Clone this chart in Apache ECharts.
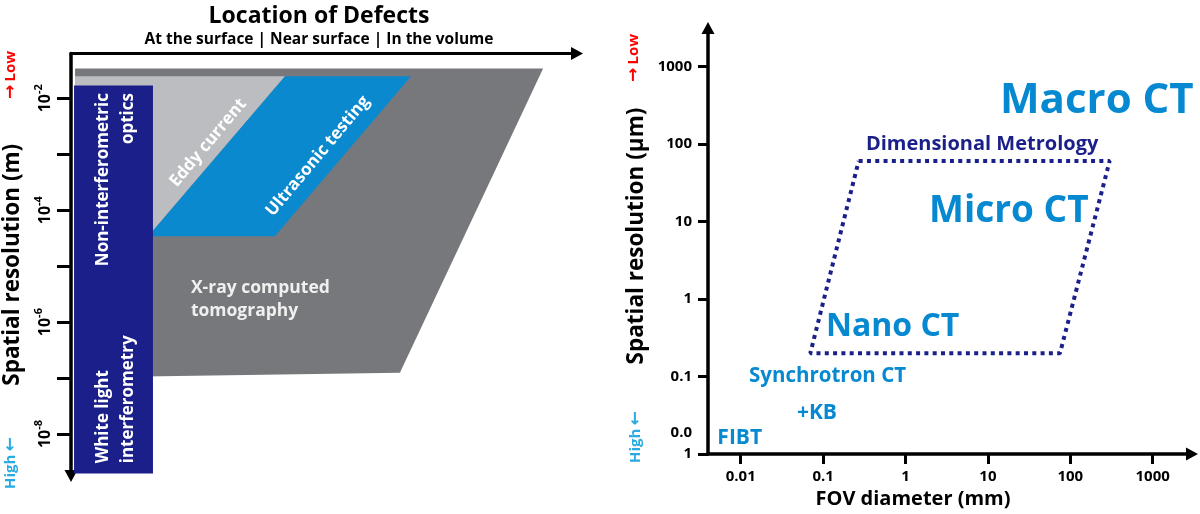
<!DOCTYPE html>
<html><head><meta charset="utf-8">
<script src="https://cdn.jsdelivr.net/npm/echarts@6/dist/echarts.min.js"></script>
<style>html,body{margin:0;padding:0;background:#fff}#c{width:1200px;height:514px}</style>
</head><body><div id="c"></div>
<script>
// ---------- Left panel: x = location of defect (arbitrary 0-100), y = spatial resolution (m)
const leftYTicks = [1e-2, 1e-3, 1e-4, 1e-5, 1e-6, 1e-7, 1e-8];
const leftYLabelTicks = [1e-2, 1e-4, 1e-6, 1e-8];
const leftYLabelBase = '10';
const leftYLabelExp = ['-2', '-4', '-6', '-8'];
const locationTitle = 'Location of Defects';
const locationSub = 'At the surface | Near surface | In the volume';

const xrayX = [0.8, 93.3, 65.0, 0.8];
const xrayY = [0.0341, 0.0341, 1.25e-7, 1.02e-7];
const eddyX = [0.8, 42.3, 16.2, 0.8];
const eddyY = [0.0247, 0.0247, 4.27e-5, 4.27e-5];
const ultraX = [42.3, 67.2, 40.3, 16.2, 16.2];
const ultraY = [0.0247, 0.0247, 3.41e-5, 3.41e-5, 4.27e-5];
const opticsX = [0.6, 16.2, 16.2, 0.6];
const opticsY = [0.0169, 0.0169, 1.98e-9, 1.98e-9];

const methodNames = ['Non-interferometric\noptics', 'White light\ninterferometry', 'Eddy current', 'Ultrasonic testing', 'X-ray computed\ntomography'];
const methodX = [8.9, 8.9, 27.1, 48.8, 23.7];
const methodY = [0.0124, 3.0e-9, 1.6e-3, 9.27e-4, 2.55e-6];

// ---------- Right panel: x = FOV diameter (mm), y = spatial resolution (µm)
const fovTicks = [0.01, 0.1, 1, 10, 100, 1000];
const fovTickLabels = ['0.01', '0.1', '1', '10', '100', '1000'];
const resTicks = [0.01, 0.1, 1, 10, 100, 1000];
const resTickLabels = ['0.0\n1\n', '0.1', '1', '10', '100', '1000'];
const metrologyFov = [0.27, 300, 75, 0.07, 0.27];
const metrologyRes = [60, 60, 0.2, 0.2, 60];
const ctNames = ['Macro CT', 'Dimensional Metrology', 'Micro CT', 'Nano CT', 'Synchrotron CT', '+KB', 'FIBT'];
const ctFov = [14, 0.33, 1.93, 0.108, 0.0126, 0.048, 0.0052];
const ctRes = [360, 98, 13.5, 0.44, 0.1, 0.034, 0.016];

const FF = "'Open Sans', 'Noto Sans', sans-serif";
const L = Math.log10;
const BLUE = '#0689d0', NAVY = '#1b1f8a';

function polySeries(xs, ys, color) {
  return {
    type: 'custom', xAxisIndex: 0, yAxisIndex: 0, silent: true, data: [0],
    renderItem: (params, api) => ({
      type: 'polygon',
      shape: { points: xs.map((x, i) => api.coord([x, L(ys[i])])) },
      style: { fill: color }
    })
  };
}

const methodStyles = [
  { rotate: 90, align: 'right', verticalAlign: 'middle', lineHeight: 25 },
  { rotate: 90, align: 'left', verticalAlign: 'middle', lineHeight: 25 },
  { rotate: 50, align: 'center', verticalAlign: 'middle' },
  { rotate: 50, align: 'center', verticalAlign: 'middle' },
  { rotate: 0, align: 'left', verticalAlign: 'middle', lineHeight: 23, color: '#f0f0f0', fontSize: 17.5 }
];
const ctStyles = [
  { fontSize: 42, color: BLUE },
  { fontSize: 20, color: NAVY },
  { fontSize: 37, color: BLUE },
  { fontSize: 32, color: BLUE },
  { fontSize: 20.5, color: BLUE },
  { fontSize: 21, color: BLUE },
  { fontSize: 21, color: BLUE }
];

const axisLineStyle = { color: '#000', width: 3.5 };
const arrowSize = [13, 12];
function sideText(x, y, text, color) {
  return { type: 'text', x: x, y: y, rotation: Math.PI / 2,
    style: { text: text, fill: color, align: 'center', verticalAlign: 'middle',
      rich: {
        a: { fontFamily: 'DejaVu Sans', fontWeight: 'bold', fontSize: 17, fill: color, lineHeight: 18 },
        t: { fontFamily: FF, fontWeight: 'bold', fontSize: 15, fill: color, lineHeight: 18 }
      } } };
}

const option = {
  animation: false,
  backgroundColor: '#fff',
  textStyle: { fontFamily: FF },
  grid: [
    { left: 71, top: 47, width: 506, height: 429 },
    { left: 708, top: 28, width: 484, height: 428 }
  ],
  xAxis: [
    {
      gridIndex: 0, type: 'value', min: 0, max: 100, position: 'top',
      axisLine: { onZero: false, symbol: ['none', 'triangle'], symbolSize: arrowSize, lineStyle: { color: '#000', width: 3 } },
      axisTick: { show: false }, axisLabel: { show: false }, splitLine: { show: false },
      name: '{t|' + locationTitle + '}\n{s|' + locationSub + '}',
      nameLocation: 'middle', nameGap: 4,
      nameTextStyle: {
        align: 'center', padding: [0, 10, 0, 0],
        rich: {
          t: { fontSize: 23, fontWeight: 'bold', color: '#000', lineHeight: 26, fontFamily: FF, align: 'center' },
          s: { fontSize: 15.5, fontWeight: 'bold', color: '#000', lineHeight: 20, fontFamily: FF, align: 'center' }
        }
      }
    },
    {
      gridIndex: 1, type: 'value', min: -2.397, max: 3.477,
      axisLine: { onZero: false, symbol: ['none', 'triangle'], symbolSize: arrowSize, lineStyle: axisLineStyle },
      axisTick: { length: 10, lineStyle: { color: '#000', width: 3 }, customValues: fovTicks.map(L) },
      axisLabel: {
        customValues: fovTicks.map(L), margin: 15, fontSize: 15, fontWeight: 'bold', color: '#000', fontFamily: FF,
        formatter: v => fovTickLabels[fovTicks.findIndex(t => Math.round(L(t)) === Math.round(v))]
      },
      splitLine: { show: false },
      name: 'FOV diameter (mm)', nameLocation: 'middle', nameGap: 33,
      nameTextStyle: { fontSize: 20, fontWeight: 'bold', color: '#000', fontFamily: FF, padding: [0, 74, 0, 0] }
    }
  ],
  yAxis: [
    {
      gridIndex: 0, type: 'value', min: -8.75, max: -1.2, position: 'left',
      axisLine: { onZero: false, symbol: ['triangle', 'none'], symbolSize: arrowSize, lineStyle: axisLineStyle },
      axisTick: { length: 14, lineStyle: { color: '#000', width: 3 }, customValues: leftYTicks.map(L) },
      axisLabel: {
        customValues: leftYLabelTicks.map(L), rotate: 90, margin: 18, color: '#000', fontFamily: FF,
        formatter: v => '{b|' + leftYLabelBase + '}{s|' + leftYLabelExp[leftYLabelTicks.findIndex(t => Math.round(L(t)) === Math.round(v))] + '}',
        rich: {
          b: { fontSize: 16, fontWeight: 'bold', color: '#000', fontFamily: FF, lineHeight: 20, verticalAlign: 'bottom' },
          s: { fontSize: 11, fontWeight: 'bold', color: '#000', fontFamily: FF, lineHeight: 11, verticalAlign: 'top' }
        }
      },
      splitLine: { show: false },
      name: 'Spatial resolution (m)', nameLocation: 'middle', nameRotate: 90, nameGap: 47,
      nameTextStyle: { fontSize: 22.5, fontWeight: 'bold', color: '#000', fontFamily: FF }
    },
    {
      gridIndex: 1, type: 'value', min: -2, max: 3.494,
      axisLine: { onZero: false, symbol: ['none', 'triangle'], symbolSize: arrowSize, lineStyle: axisLineStyle },
      axisTick: { length: 10, lineStyle: { color: '#000', width: 3 }, customValues: resTicks.map(L) },
      axisLabel: {
        customValues: resTicks.map(L), margin: 16, fontSize: 15, fontWeight: 'bold', color: '#000', fontFamily: FF, lineHeight: 21,
        formatter: v => resTickLabels[resTicks.findIndex(t => Math.round(L(t)) === Math.round(v))]
      },
      splitLine: { show: false },
      name: 'Spatial resolution (µm)', nameLocation: 'middle', nameRotate: 90, nameGap: 60,
      nameTextStyle: { fontSize: 22.5, fontWeight: 'bold', color: '#000', fontFamily: FF, padding: [0, 0, 0, 10] }
    }
  ],
  series: [
    polySeries(xrayX, xrayY, '#77787b'),
    polySeries(eddyX, eddyY, '#bcbdc0'),
    polySeries(ultraX, ultraY, '#0a89cf'),
    polySeries(opticsX, opticsY, NAVY),
    {
      type: 'scatter', xAxisIndex: 0, yAxisIndex: 0, symbolSize: 0.1, silent: true,
      itemStyle: { color: 'transparent', opacity: 1 },
      label: { show: true, opacity: 1, position: 'inside', formatter: '{b}', color: '#fff', fontFamily: FF, fontWeight: 'bold', fontSize: 17 },
      data: methodNames.map((n, i) => ({ name: n, value: [methodX[i], L(methodY[i])], label: methodStyles[i] }))
    },
    {
      type: 'line', xAxisIndex: 1, yAxisIndex: 1, symbol: 'none', silent: true,
      lineStyle: { color: NAVY, width: 4, type: [4, 4.3], cap: 'butt' },
      data: metrologyFov.map((f, i) => [L(f), L(metrologyRes[i])])
    },
    {
      type: 'scatter', xAxisIndex: 1, yAxisIndex: 1, symbolSize: 0.1, silent: true,
      itemStyle: { color: 'transparent', opacity: 1 },
      label: { show: true, opacity: 1, position: 'right', distance: 0, formatter: '{b}', fontFamily: FF, fontWeight: 'bold' },
      data: ctNames.map((n, i) => ({ name: n, value: [L(ctFov[i]), L(ctRes[i])], label: ctStyles[i] }))
    }
  ],
  graphic: [
    sideText(11, 75, '{a|→} {t|Low}', '#ff0000'),
    sideText(11, 463, '{t|High} {a|←}', '#29abe2'),
    sideText(634, 58, '{a|→} {t|Low}', '#ff0000'),
    sideText(636, 437, '{t|High} {a|←}', '#29abe2')
  ]
};

const chart = echarts.init(document.getElementById('c'), null, { renderer: 'canvas' });
chart.setOption(option);
</script>
</body></html>
